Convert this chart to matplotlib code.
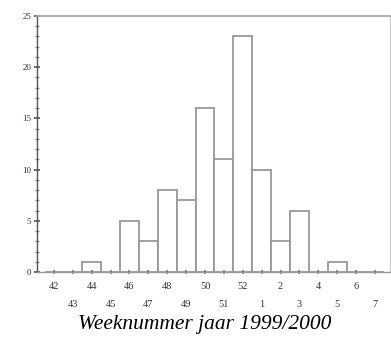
import matplotlib
matplotlib.use("Agg")
import matplotlib.pyplot as plt
from matplotlib.ticker import MultipleLocator

weeks = ["42", "43", "44", "45", "46", "47", "48", "49", "50", "51", "52",
         "1", "2", "3", "4", "5", "6", "7"]
counts = [0, 0, 1, 0, 5, 3, 8, 7, 16, 11, 23, 10, 3, 6, 0, 1, 0, 0]
yticks = [0, 5, 10, 15, 20, 25]
xlabel = "Weeknummer jaar 1999/2000"

fig = plt.figure(figsize=(3.91, 3.38), dpi=100)
ax = fig.add_axes([37/391, 1-272/338, (390-37)/391, (272-16)/338])

x = list(range(len(weeks)))
ax.bar(x, counts, width=1.0, color="white", edgecolor="#999999", linewidth=1.3)

ax.set_xlim(-0.9, 17.8)
ax.set_ylim(0, 25)

ax.set_yticks(yticks)
ax.yaxis.set_minor_locator(MultipleLocator(1))
ax.tick_params(axis="y", which="major", direction="inout", length=4, width=1.2,
               color="#555555", labelsize=6.5, labelcolor="#333333", pad=2)
ax.tick_params(axis="y", which="minor", direction="inout", length=3, width=1.0,
               color="#888888")
for lab in ax.get_yticklabels():
    lab.set_fontfamily("Liberation Serif")

ax.set_xticks(x)
ax.set_xticklabels([])
ax.tick_params(axis="x", which="major", direction="inout", length=3, width=1.2,
               color="#777777")
for i, w in enumerate(weeks):
    yoff = -0.055 if i % 2 == 0 else -0.127
    ax.text(i, yoff, w, transform=ax.get_xaxis_transform(), ha="center",
            va="center", fontsize=7.5, family="Liberation Serif", color="#333333")

ax.text(0.476, -0.205, xlabel, transform=ax.transAxes, ha="center", va="center",
        fontsize=15.5, family="Liberation Serif", style="italic", color="black")

ax.spines["left"].set_color("#555555")
ax.spines["left"].set_linewidth(1.0)
ax.spines["bottom"].set_color("#999999")
ax.spines["bottom"].set_linewidth(1.0)
ax.spines["top"].set_color("#aaaaaa")
ax.spines["top"].set_linewidth(1.3)
ax.spines["right"].set_color("#cccccc")
ax.spines["right"].set_linewidth(1.0)

fig.savefig("out.png", dpi=100)
